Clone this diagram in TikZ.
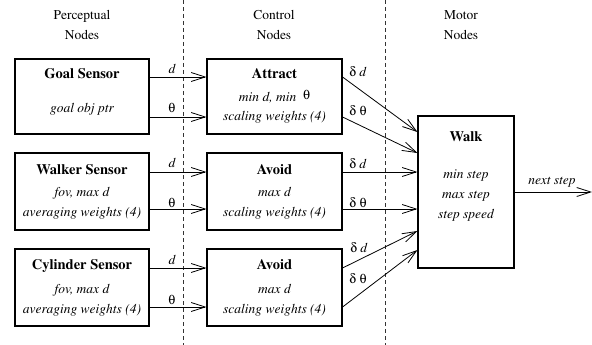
\documentclass[tikz,border=0pt]{standalone}
\usepackage[T1]{fontenc}
\usepackage{mathptmx}
\usepackage[Symbol]{upgreek}
\usetikzlibrary{arrows.meta}
\newcommand{\thT}{\ensuremath{\uptheta}}
\newcommand{\deL}{\ensuremath{\updelta}}
\tikzset{
  box/.style={draw, line width=1.1pt, inner sep=0pt},
  flow/.style={draw, line width=0.8pt, -{Straight Barb[length=14pt,width=9pt,line width=0.8pt]}},
  sep/.style={draw, line width=0.8pt, dash pattern=on 4pt off 3pt, black!80},
  txt/.style={inner sep=0pt, anchor=base, font=\fontsize{13.5}{16}\selectfont},
  ttl/.style={inner sep=0pt, anchor=base, font=\fontsize{14.5}{17}\selectfont\bfseries},
  itx/.style={inner sep=0pt, anchor=base, font=\fontsize{13.5}{16}\selectfont\itshape},
}
\begin{document}
\begin{tikzpicture}[x=1pt, y=-1pt]
\useasboundingbox (0,0) rectangle (592,345);

% column separators
\path[sep] (183,0) -- (183,345);
\path[sep] (385,0) -- (385,345);

% column headings
\node[txt] (hp1) at (82,20) {Perceptual};
\node[txt] (hp2) at (82,40) {Nodes};
\node[txt] (hc1) at (274,20) {Control};
\node[txt] (hc2) at (274,40) {Nodes};
\node[txt] (hm1) at (461,20) {Motor};
\node[txt] (hm2) at (461,40) {Nodes};

% perceptual nodes
\node[box, minimum width=134pt, minimum height=75pt] (goal) at (82,96.5) {};
\node[box, minimum width=134pt, minimum height=77pt] (walker) at (82,191.5) {};
\node[box, minimum width=134pt, minimum height=77pt] (cyl) at (82,287.5) {};

% control nodes
\node[box, minimum width=135pt, minimum height=75pt] (attract) at (274.5,96.5) {};
\node[box, minimum width=135pt, minimum height=77pt] (avoid1) at (274.5,191.5) {};
\node[box, minimum width=135pt, minimum height=77pt] (avoid2) at (274.5,287.5) {};

% motor node
\node[box, minimum width=96pt, minimum height=152pt] (walk) at (466,192) {};

% box contents
\node[ttl] (goalT) at (82,78) {Goal Sensor};
\node[itx] (goalA) at (82,112) {goal obj ptr};

\node[ttl] (walkerT) at (82,174) {Walker Sensor};
\node[itx] (walkerA) at (82,196) {fov, max d};
\node[itx] (walkerB) at (82,216) {averaging weights (4)};

\node[ttl] (cylT) at (82,269) {Cylinder Sensor};
\node[itx] (cylA) at (82,293) {fov, max d};
\node[itx] (cylB) at (82,313) {averaging weights (4)};

\node[ttl] (attractT) at (274.5,78) {Attract};
\node[itx] (attractA) at (274.5,101) {min d, min\enspace\raisebox{1.5pt}{\thT}};
\node[itx] (attractB) at (274.5,121) {scaling weights (4)};

\node[ttl] (avoid1T) at (274.5,174) {Avoid};
\node[itx] (avoid1A) at (274.5,196) {max d};
\node[itx] (avoid1B) at (274.5,216) {scaling weights (4)};

\node[ttl] (avoid2T) at (274.5,269) {Avoid};
\node[itx] (avoid2A) at (274.5,293) {max d};
\node[itx] (avoid2B) at (274.5,313) {scaling weights (4)};

\node[ttl] (walkT) at (466,141) {Walk};
\node[itx] (walkA) at (466,178) {min step};
\node[itx] (walkB) at (466,198) {max step};
\node[itx] (walkC) at (466,218) {step speed};

% perceptual -> control
\path[flow] ([yshift=19.5pt]goal.east) -- ([yshift=19.5pt]attract.west);
\path[flow] ([yshift=-20.5pt]goal.east) -- ([yshift=-20.5pt]attract.west);
\path[flow] ([yshift=19.5pt]walker.east) -- ([yshift=19.5pt]avoid1.west);
\path[flow] ([yshift=-17.5pt]walker.east) -- ([yshift=-17.5pt]avoid1.west);
\path[flow] ([yshift=19.5pt]cyl.east) -- ([yshift=19.5pt]avoid2.west);
\path[flow] ([yshift=-19.5pt]cyl.east) -- ([yshift=-19.5pt]avoid2.west);

\node[itx] (l1) at (172,74) {d};
\node[txt] (l2) at (172,113) {\thT};
\node[itx] (l3) at (172,167) {d};
\node[txt] (l4) at (172,207) {\thT};
\node[itx] (l5) at (172,264) {d};
\node[txt] (l6) at (172,304) {\thT};

% control -> motor
\path[flow] ([yshift=19.5pt]attract.east) -- ([yshift=60pt]walk.west);
\path[flow] ([yshift=-20.5pt]attract.east) -- ([yshift=39pt]walk.west);
\path[flow] ([yshift=19.5pt]avoid1.east) -- ([yshift=20pt]walk.west);
\path[flow] ([yshift=-17.5pt]avoid1.east) -- ([yshift=-17pt]walk.west);
\path[flow] ([yshift=19.5pt]avoid2.east) -- ([yshift=-39pt]walk.west);
\path[flow] ([yshift=-19.5pt]avoid2.east) -- ([yshift=-58pt]walk.west);

\node[txt] (m1) at (358,77) {\deL\ \textit{d}};
\node[txt] (m2) at (358,115) {\deL\ \thT};
\node[txt] (m3) at (358,168) {\deL\ \textit{d}};
\node[txt] (m4) at (358,207) {\deL\ \thT};
\node[txt] (m5) at (359,252) {\deL\ \textit{d}};
\node[txt] (m6) at (358,283) {\deL\ \thT};

% motor output
\coordinate (out) at (592,192);
\path[flow] (walk.east) -- (out);
\node[itx] (nx) at (552,184) {next step};
\end{tikzpicture}
\end{document}
